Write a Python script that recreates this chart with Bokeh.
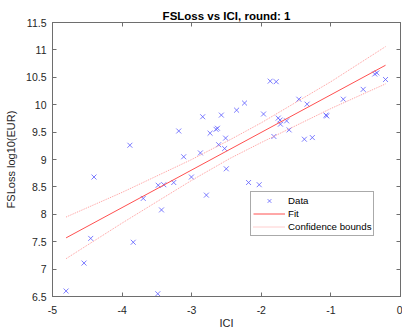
from bokeh.plotting import figure
from bokeh.models import Range1d, FixedTicker, LinearAxis, Legend, LegendItem, ColumnDataSource
from bokeh.embed import file_html
from bokeh.resources import INLINE

# ---- data ----
ici = [-4.805, -4.547, -4.451, -4.404, -3.888, -3.84, -3.696, -3.487, -3.481, -3.434,
       -3.401, -3.258, -3.186, -3.115, -3.004, -2.875, -2.842, -2.789, -2.736, -2.65,
       -2.63, -2.613, -2.574, -2.527, -2.513, -2.503, -2.355, -2.241, -2.183, -2.03,
       -1.968, -1.872, -1.819, -1.786, -1.757, -1.73, -1.725, -1.636, -1.60, -1.461,
       -1.381, -1.342, -1.267, -1.07, -1.06, -0.822, -0.536, -0.37, -0.34, -0.215]
fsloss = [6.60, 7.11, 7.56, 8.68, 9.26, 7.49, 8.29, 6.55, 8.53, 8.08,
          8.54, 8.58, 9.52, 9.05, 8.68, 9.12, 9.78, 8.35, 9.48, 9.55,
          9.57, 9.27, 9.81, 9.20, 9.39, 8.83, 9.90, 10.03, 8.58, 8.54,
          9.83, 10.43, 9.42, 10.42, 9.755, 9.72, 9.645, 9.705, 9.54, 10.10,
          9.37, 10.01, 9.40, 9.81, 9.795, 10.10, 10.28, 10.56, 10.58, 10.46]

fit_x = [-4.805, -0.215]
fit_y = [7.57, 10.72]

bound_x = [-4.805, -4.0, -3.0, -2.45, -2.0, -1.0, -0.215]
bound_upper = [7.95, 8.40, 9.00, 9.36, 9.67, 10.42, 11.06]
bound_lower = [7.19, 7.84, 8.62, 9.02, 9.31, 9.93, 10.38]

x_ticks = [-5, -4, -3, -2, -1, 0]
x_tick_labels = ["-5", "-4", "-3", "-2", "-1", "0"]
y_ticks = [6.5, 7, 7.5, 8, 8.5, 9, 9.5, 10, 10.5, 11, 11.5]
y_tick_labels = ["6.5", "7", "7.5", "8", "8.5", "9", "9.5", "10", "10.5", "11", "11.5"]

title_text = "FSLoss vs ICI, round: 1"
x_label = "ICI"
y_label = "FSLoss log10(EUR)"

FONT = "Liberation Sans"
TXT = "#262626"
AX = "#6e6e6e"

p = figure(width=402, height=331, x_range=Range1d(-5, 0), y_range=Range1d(6.5, 11.5),
           output_backend="svg", toolbar_location=None,
           min_border_left=52, min_border_right=2, min_border_top=22, min_border_bottom=0)
p.background_fill_color = "white"
p.border_fill_color = "white"
p.outline_line_color = AX
p.xgrid.visible = False
p.ygrid.visible = False

p.title.text = title_text
p.title.text_font = FONT
p.title.text_font_size = "11.5px"
p.title.text_font_style = "bold"
p.title.text_color = "#000000"
p.title.align = "center"
p.title.standoff = 2
p.title.offset = 0


def style_axis(ax, ticks, labels, show_labels=True, standoff=6):
    ax.ticker = FixedTicker(ticks=ticks)
    ax.major_label_overrides = {t: l for t, l in zip(ticks, labels)}
    ax.major_tick_in = 4
    ax.major_tick_out = 0
    ax.minor_tick_in = 0
    ax.minor_tick_out = 0
    ax.axis_line_color = AX
    ax.major_tick_line_color = AX
    ax.major_label_text_font = FONT
    ax.major_label_text_color = TXT
    if show_labels:
        ax.major_label_text_font_size = "10.5px"
        ax.major_label_standoff = standoff
    else:
        ax.major_label_text_font_size = "0px"
        ax.major_label_standoff = 0


style_axis(p.xaxis[0], x_ticks, x_tick_labels, standoff=9)
style_axis(p.yaxis[0], y_ticks, y_tick_labels, standoff=6)
p.xaxis[0].axis_label = x_label
p.yaxis[0].axis_label = y_label
for ax in (p.xaxis[0], p.yaxis[0]):
    ax.axis_label_text_font = FONT
    ax.axis_label_text_font_size = "11px"
    ax.axis_label_text_font_style = "normal"
    ax.axis_label_text_color = TXT
p.xaxis[0].axis_label_standoff = 0
p.yaxis[0].axis_label_standoff = 6

top_ax = LinearAxis()
style_axis(top_ax, x_ticks, [""] * len(x_ticks), show_labels=False)
p.add_layout(top_ax, "above")
right_ax = LinearAxis()
style_axis(right_ax, y_ticks, [""] * len(y_ticks), show_labels=False)
p.add_layout(right_ax, "right")

src = ColumnDataSource(dict(x=ici, y=fsloss))
r_data = p.scatter("x", "y", source=src, marker="x", size=7, line_color="#5c5cff", line_width=0.8)
r_fit = p.line(fit_x, fit_y, line_color="#ff5050", line_width=1)
r_up = p.line(bound_x, bound_upper, line_color="#ff9c9c", line_width=1, line_dash="1 1")
r_lo = p.line(bound_x, bound_lower, line_color="#ff9c9c", line_width=1, line_dash="1 1")

legend = Legend(items=[LegendItem(label="Data", renderers=[r_data]),
                       LegendItem(label="Fit", renderers=[r_fit]),
                       LegendItem(label="Confidence bounds", renderers=[r_up])],
                location=(198, 60), orientation="vertical",
                margin=0, padding=2, spacing=0,
                glyph_width=32, glyph_height=13, label_height=13, label_standoff=3,
                label_text_font=FONT, label_text_font_size="9.7px", label_text_color="#000000",
                border_line_color="#555555", border_line_width=1,
                background_fill_color="white", background_fill_alpha=1)
p.add_layout(legend, "center")

open("out.html", "w").write(file_html(p, INLINE))
